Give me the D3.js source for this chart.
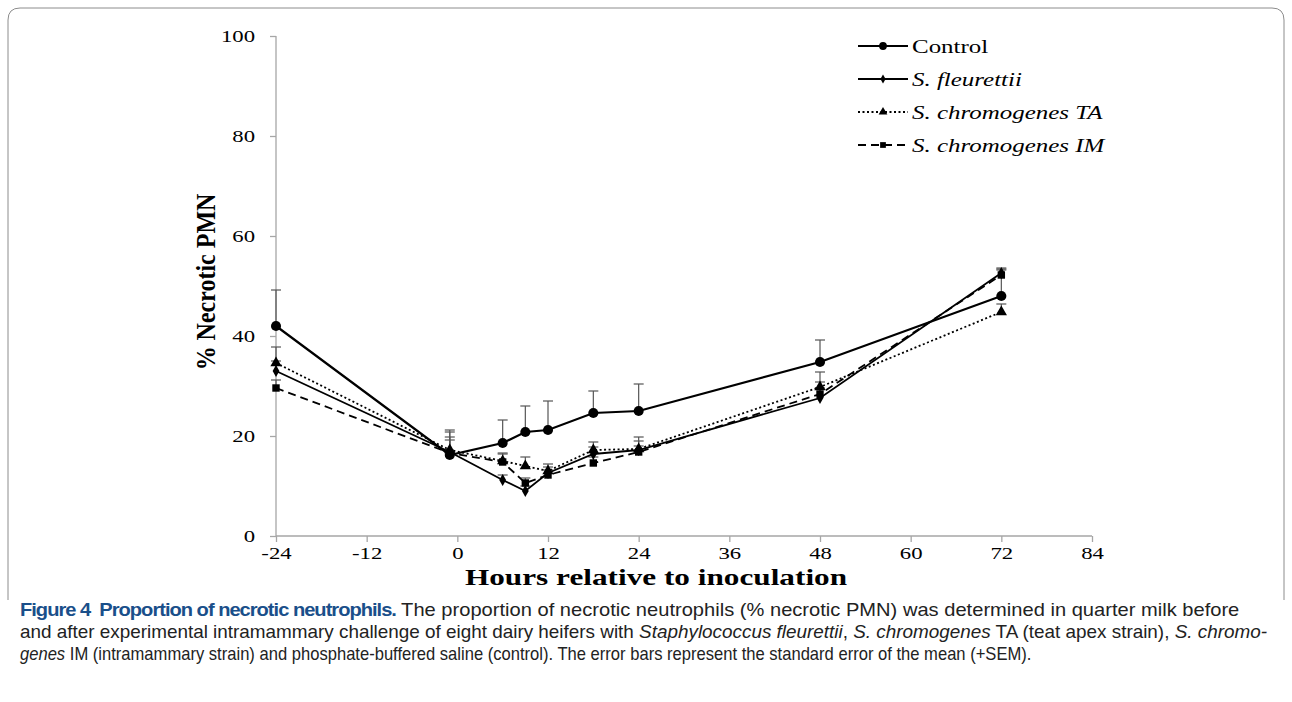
<!DOCTYPE html>
<html><head><meta charset="utf-8">
<script src="https://cdn.jsdelivr.net/npm/d3@7"></script>
<style>body{margin:0;background:#fff}svg{display:block}</style>
</head><body><svg id="c" width="1292" height="702"></svg>
<script>
const hours = [-24, -1, 6, 9, 12, 18, 24, 48, 72];
const xTicks = [-24, -12, 0, 12, 24, 36, 48, 60, 72, 84];
const yTicks = [0, 20, 40, 60, 80, 100];
const seriesNames = ["Control", "S. fleurettii", "S. chromogenes TA", "S. chromogenes IM"];
const controlVals = [42, 16.2, 18.6, 20.8, 21.2, 24.6, 25.0, 34.8, 48.0];
const controlErr  = [7.2, 5.0, 4.6, 5.2, 5.8, 4.4, 5.4, 4.4, 5.2];
const fleurVals   = [33, 16.8, 11.2, 9.0, 12.6, 16.4, 17.2, 27.6, 52.6];
const fleurErr    = [2.0, 3.0, 1.0, 1.0, 1.2, 1.4, 1.8, 2.0, 1.0];
const taVals      = [34.6, 17.2, 15.0, 14.0, 13.0, 17.2, 17.4, 29.8, 44.8];
const taErr       = [3.2, 3.6, 1.4, 1.8, 1.4, 1.6, 2.4, 3.0, 1.6];
const imVals      = [29.6, 16.6, 14.8, 10.6, 12.2, 14.6, 16.8, 28.4, 52.2];
const imErr       = [1.6, 2.6, 1.8, 1.0, 1.0, 1.2, 1.2, 2.4, 1.2];

const svg = d3.select("#c");
const x = d3.scaleLinear().domain([-24, 84]).range([276, 1092]);
const y = d3.scaleLinear().domain([0, 100]).range([536, 36]);
const SX = 1.3; // horizontal stretch of the chart's lettering

// frame
svg.append("path")
  .attr("d", "M8,600 L8,20 Q8,8 20,8 L1272,8 Q1284,8 1284,20 L1284,600")
  .attr("fill", "none").attr("stroke", "#8c8c8c").attr("stroke-width", 1);

const axisColor = "#a6a6a6";
const serif = "'Liberation Serif','Times New Roman',serif";
const fmt = d => String(d);

// axes
const gx = svg.append("g").attr("transform", `translate(0,${y(0)})`)
  .call(d3.axisBottom(x).tickValues(xTicks).tickSize(6).tickPadding(5).tickFormat(fmt));
const gy = svg.append("g").attr("transform", `translate(${x(-24)},0)`)
  .call(d3.axisLeft(y).tickValues(yTicks).tickSize(6).tickPadding(15).tickFormat(fmt));
[gx, gy].forEach(g => {
  g.select(".domain").attr("stroke", axisColor).attr("stroke-width", 1.3);
  g.selectAll(".tick line").attr("stroke", axisColor).attr("stroke-width", 1.3);
  g.selectAll(".tick text").attr("fill", "#000").style("font-family", serif).style("font-size", "17.5px");
});
gx.selectAll(".tick text").attr("transform", `scale(${SX},1)`);
gy.selectAll(".tick text").attr("x", 0).attr("transform", `translate(-21,0) scale(${SX},1)`);
gx.select(".domain").attr("d", `M${x(-24)},0H${x(84)}`);
gy.select(".domain").attr("d", `M0,${y(0)}V${y(100)}`);

// axis titles
svg.append("text").attr("transform", `translate(656,585) scale(1.33,1)`).attr("text-anchor", "middle")
  .style("font-family", serif).style("font-size", "23.5px").style("font-weight", "bold")
  .text("Hours relative to inoculation");
svg.append("text").attr("transform", `translate(215,${(y(0)+y(100))/2 - 4}) scale(1.1,1) rotate(-90)`)
  .attr("text-anchor", "middle")
  .style("font-family", serif).style("font-size", "24px").style("font-weight", "bold")
  .text("% Necrotic PMN");

const series = [
  {name: seriesNames[0], vals: controlVals, err: controlErr, dash: null, w: 2.2, sym: d3.symbolCircle, size: 80},
  {name: seriesNames[1], vals: fleurVals, err: fleurErr, dash: null, w: 1.8, sym: d3.symbolDiamond, size: 40},
  {name: seriesNames[2], vals: taVals, err: taErr, dash: "2,2.5", w: 1.8, sym: d3.symbolTriangle, size: 55},
  {name: seriesNames[3], vals: imVals, err: imErr, dash: "8,5", w: 1.8, sym: d3.symbolSquare, size: 55}
];

const line = d3.line().x((d, i) => x(hours[i])).y(d => y(d));
const cap = 5;

// error bars first
series.slice().reverse().forEach(s => {
  const g = svg.append("g").attr("stroke", "#555").attr("stroke-width", 1.2);
  s.vals.forEach((v, i) => {
    const cx = x(hours[i]), top = y(v + s.err[i]);
    g.append("line").attr("x1", cx).attr("x2", cx).attr("y1", y(v)).attr("y2", top);
    g.append("line").attr("x1", cx - cap).attr("x2", cx + cap).attr("y1", top).attr("y2", top);
  });
});

series.slice().reverse().forEach(s => {
  svg.append("path").datum(s.vals).attr("d", line)
    .attr("fill", "none").attr("stroke", "#000").attr("stroke-width", s.w)
    .attr("stroke-dasharray", s.dash);
  svg.append("g").selectAll("path").data(s.vals).join("path")
    .attr("transform", (d, i) => `translate(${x(hours[i])},${y(d)})`)
    .attr("d", d3.symbol().type(s.sym).size(s.size)).attr("fill", "#000");
});

// legend
const legY = [46, 79, 112, 145];
series.forEach((s, i) => {
  const g = svg.append("g").attr("transform", `translate(858,${legY[i]})`);
  g.append("line").attr("x1", 0).attr("x2", 50).attr("y1", 0).attr("y2", 0)
    .attr("stroke", "#000").attr("stroke-width", s.w).attr("stroke-dasharray", s.dash);
  g.append("path").attr("transform", "translate(25,0)")
    .attr("d", d3.symbol().type(s.sym).size(s.size * 0.6)).attr("fill", "#000");
  g.append("text").attr("transform", `translate(54,7) scale(1.28,1)`)
    .style("font-family", serif).style("font-size", "19.5px")
    .style("font-style", i === 0 ? "normal" : "italic").text(s.name);
});

// caption
const capLines = [
  {y: 616, w: 1220, parts: [["Figure 4  Proportion of necrotic neutrophils.", "b"], [" The proportion of necrotic neutrophils (% necrotic PMN) was determined in quarter milk before", "n"]]},
  {y: 638, w: 1248, parts: [["and after experimental intramammary challenge of eight dairy heifers with ", "n"], ["Staphylococcus fleurettii", "i"], [", ", "n"], ["S. chromogenes", "i"], [" TA (teat apex strain), ", "n"], ["S. chromo-", "i"]]},
  {y: 660, w: 1012, parts: [["genes", "i"], [" IM (intramammary strain) and phosphate-buffered saline (control). The error bars represent the standard error of the mean (+SEM).", "n"]]}
];
capLines.forEach(l => {
  const g = svg.append("g").attr("transform", `translate(20,${l.y})`);
  const t = g.append("text").style("font-family", "'Liberation Sans',Arial,sans-serif")
    .style("font-size", "18px").style("white-space", "pre").attr("fill", "#222");
  l.parts.forEach(p => {
    t.append("tspan").text(p[0])
      .style("font-weight", p[1] === "b" ? "bold" : "normal")
      .style("font-style", p[1] === "i" ? "italic" : "normal")
      .style("letter-spacing", p[1] === "b" ? "-0.9px" : "0px")
      .attr("fill", p[1] === "b" ? "#1a4f8a" : "#222");
  });
  const w = t.node().getComputedTextLength();
  g.attr("transform", `translate(20,${l.y}) scale(${l.w / w},1)`);
});
</script></body></html>
